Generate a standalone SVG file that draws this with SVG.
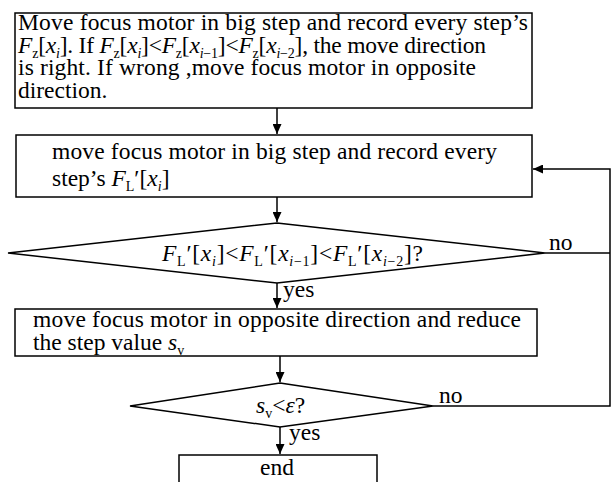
<svg xmlns="http://www.w3.org/2000/svg" width="612" height="482" viewBox="0 0 612 482">
<defs>
<marker id="ah" markerWidth="10" markerHeight="9" refX="10" refY="4.5" orient="auto" markerUnits="userSpaceOnUse">
<path d="M0,0 L10,4.5 L0,9 Z" fill="#000"/>
</marker>
<style>
.t{font-family:"Liberation Serif","Times New Roman",serif;font-size:23.5px;fill:#000}
.i{font-style:italic}
.s{font-size:14px}
.box{fill:#fff;stroke:#000;stroke-width:1.5}
.ln{fill:none;stroke:#000;stroke-width:1.5}
</style>
</defs>
<rect width="612" height="482" fill="#fff"/>
<g id="connectors">
<line class="ln" x1="277" y1="108" x2="277" y2="134" marker-end="url(#ah)"/>
<line class="ln" x1="277" y1="197" x2="277" y2="222" marker-end="url(#ah)"/>
<line class="ln" x1="277" y1="283" x2="277" y2="308" marker-end="url(#ah)"/>
<line class="ln" x1="280" y1="356" x2="280" y2="382" marker-end="url(#ah)"/>
<line class="ln" x1="280" y1="427" x2="280" y2="454" marker-end="url(#ah)"/>
<polyline class="ln" points="545,253 610,253"/>
<polyline class="ln" points="433,406 610,406 610,169 533,169" marker-end="url(#ah)"/>
<text class="t" x="549" y="250">no</text>
<text class="t" x="439" y="403">no</text>
<text class="t" x="283" y="297">yes</text>
<text class="t" x="289" y="440">yes</text>
</g>
<g id="box1">
<rect class="box" x="15" y="13" width="517" height="95"/>
<text class="t" x="18" y="30" textLength="510">Move focus motor in big step and record every step’s</text>
<text class="t" x="18" y="53" textLength="468"><tspan class="i">F</tspan><tspan class="s" dy="5">z</tspan><tspan dy="-5">[</tspan><tspan class="i">x</tspan><tspan class="s i" dy="5">i</tspan><tspan dy="-5">]. If </tspan><tspan class="i">F</tspan><tspan class="s" dy="5">z</tspan><tspan dy="-5">[</tspan><tspan class="i">x</tspan><tspan class="s i" dy="5">i</tspan><tspan dy="-5">]&lt;</tspan><tspan class="i">F</tspan><tspan class="s" dy="5">z</tspan><tspan dy="-5">[</tspan><tspan class="i">x</tspan><tspan class="s" dy="5"><tspan class="i">i</tspan>−1</tspan><tspan dy="-5">]&lt;</tspan><tspan class="i">F</tspan><tspan class="s" dy="5">z</tspan><tspan dy="-5">[</tspan><tspan class="i">x</tspan><tspan class="s" dy="5"><tspan class="i">i</tspan>−2</tspan><tspan dy="-5">], the move direction</tspan></text>
<text class="t" x="18" y="75" textLength="458">is right. If wrong ,move focus motor in opposite</text>
<text class="t" x="18" y="98">direction.</text>
</g>
<g id="box2">
<rect class="box" x="16" y="135" width="516" height="62"/>
<text class="t" x="52" y="159" textLength="445">move focus motor in big step and record every</text>
<text class="t" x="52" y="186">step’s <tspan class="i">F</tspan><tspan class="s" dy="5">L</tspan><tspan dy="-5">′[</tspan><tspan class="i">x</tspan><tspan class="s i" dy="5">i</tspan><tspan dy="-5">]</tspan></text>
</g>
<g id="decision1">
<polygon class="box" points="277,223 545,253 277,283 8,253"/>
<text class="t" x="162" y="261" textLength="261"><tspan class="i">F</tspan><tspan class="s" dy="5">L</tspan><tspan dy="-5">′[</tspan><tspan class="i">x</tspan><tspan class="s i" dy="5">i</tspan><tspan dy="-5">]&lt;</tspan><tspan class="i">F</tspan><tspan class="s" dy="5">L</tspan><tspan dy="-5">′[</tspan><tspan class="i">x</tspan><tspan class="s" dy="5"><tspan class="i">i</tspan>−1</tspan><tspan dy="-5">]&lt;</tspan><tspan class="i">F</tspan><tspan class="s" dy="5">L</tspan><tspan dy="-5">′[</tspan><tspan class="i">x</tspan><tspan class="s" dy="5"><tspan class="i">i</tspan>−2</tspan><tspan dy="-5">]?</tspan></text>
</g>
<g id="box3">
<rect class="box" x="15" y="309" width="522" height="47"/>
<text class="t" x="33" y="327" textLength="488">move focus motor in opposite direction and reduce</text>
<text class="t" x="33" y="350">the step value <tspan class="i">s</tspan><tspan class="s" dy="5">v</tspan></text>
</g>
<g id="decision2">
<polygon class="box" points="280,383 433,406 280,427 130,406"/>
<text class="t" x="256" y="413"><tspan class="i">s</tspan><tspan class="s" dy="5">v</tspan><tspan dy="-5">&lt;</tspan><tspan class="i">ε</tspan>?</text>
</g>
<g id="end">
<rect class="box" x="179" y="455" width="198" height="40"/>
<text class="t" x="277" y="475" text-anchor="middle">end</text>
</g>
</svg>
